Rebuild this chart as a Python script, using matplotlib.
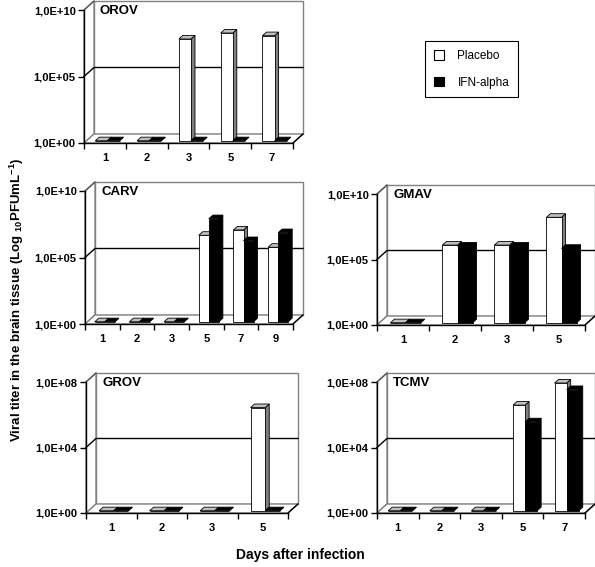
import numpy as np
import matplotlib
matplotlib.use("Agg")
import matplotlib.pyplot as plt
from matplotlib.patches import Polygon, Rectangle, Patch

plt.rcParams['font.family'] = ['Liberation Sans', 'DejaVu Sans']
plt.rcParams['mathtext.fontset'] = 'custom'
plt.rcParams['mathtext.rm'] = 'Liberation Sans:bold'
plt.rcParams['mathtext.bf'] = 'Liberation Sans:bold'

# log10 of the titres (1,0E+00 -> 0)
orov_days = ['1', '2', '3', '5', '7']
orov_placebo = [0, 0, 7.65, 8.1, 7.9]
orov_ifn = [0, 0, 0, 0, 0]

carv_days = ['1', '2', '3', '5', '7', '9']
carv_placebo = [0, 0, 0, 6.5, 6.9, 5.6]
carv_ifn = [0, 0, 0, 7.75, 6.1, 6.7]

gmav_days = ['1', '2', '3', '5']
gmav_placebo = [0, 5.93, 5.93, 8.05]
gmav_ifn = [0, 5.85, 5.85, 5.68]

grov_days = ['1', '2', '3', '5']
grov_placebo = [0, 0, 0, 6.3]
grov_ifn = [0, 0, 0, 0]

tcmv_days = ['1', '2', '3', '5', '7']
tcmv_placebo = [0, 0, 0, 6.45, 7.8]
tcmv_ifn = [0, 0, 0, 5.43, 7.4]

W, H = 595, 567
DX, DY = 10, 9          # depth of the 3d box in pixels
BAR_W = 0.29
FRONT = 0.25            # bar front face position (fraction of depth)
BDEPTH = 0.4            # bar depth (fraction of depth)

fig = plt.figure(figsize=(W / 100, H / 100), dpi=100)


def panel(name, days, placebo, ifn, top, box):
    x0, x1, yt, yb = box
    ax = fig.add_axes([x0 / W, (H - yb) / H, (x1 - x0) / W, (yb - yt) / H])
    ax.patch.set_visible(False)
    n = len(days)
    ax.set_xlim(0, n)
    ax.set_ylim(0, top)
    sx = n / (x1 - x0)
    sy = top / (yb - yt)
    ddx, ddy = DX * sx, DY * sy
    mid = top / 2

    # walls
    ax.add_patch(Rectangle((ddx, ddy), n, top, facecolor='white',
                           edgecolor='0.5', lw=1, clip_on=False, zorder=1))
    ax.add_patch(Polygon([(0, 0), (ddx, ddy), (ddx, top + ddy), (0, top)],
                         closed=True, facecolor='white', edgecolor='0.5',
                         lw=1, clip_on=False, zorder=1))
    ax.add_patch(Polygon([(0, 0), (n, 0), (n + ddx, ddy), (ddx, ddy)],
                         closed=True, facecolor='white', edgecolor='0.5',
                         lw=1, clip_on=False, zorder=1))
    ax.plot([0, ddx, n + ddx], [mid, mid + ddy, mid + ddy], color='black',
            lw=1, clip_on=False, zorder=2)
    ax.plot([n, n + ddx], [0, ddy], color='black', lw=1, clip_on=False, zorder=2)
    ax.plot([0, ddx], [top, top + ddy], color='0.35', lw=1, clip_on=False, zorder=2)

    # bars
    fx, fy = FRONT * ddx, FRONT * ddy
    bx, by = BDEPTH * ddx, BDEPTH * ddy
    for i in range(n):
        xc = i + 0.5 + fx
        for vals, left, face, side, cap in [
                (placebo, xc - BAR_W, 'white', '0.5', '0.75'),
                (ifn, xc, 'black', 'black', 'black')]:
            v = vals[i]
            xr = left + BAR_W
            ax.add_patch(Polygon([(xr, fy), (xr + bx, fy + by),
                                  (xr + bx, fy + v + by), (xr, fy + v)],
                                 closed=True, facecolor=side, edgecolor='black',
                                 lw=0.6, zorder=3, clip_on=False))
            ax.add_patch(Polygon([(left, fy + v), (xr, fy + v),
                                  (xr + bx, fy + v + by), (left + bx, fy + v + by)],
                                 closed=True, facecolor=cap, edgecolor='black',
                                 lw=0.6, zorder=3, clip_on=False))
            ax.bar(left, v, bottom=fy, width=BAR_W, align='edge', color=face,
                   edgecolor='black', linewidth=0.6, zorder=3, clip_on=False)

    # axes
    for s in ['top', 'right']:
        ax.spines[s].set_visible(False)
    for s in ['left', 'bottom']:
        ax.spines[s].set_color('black')
        ax.spines[s].set_linewidth(1)
        ax.spines[s].set_zorder(4)
    exp = int(top)
    ax.set_yticks([0, mid, top])
    ax.set_yticklabels(['1,0E+00', '1,0E+%02d' % (exp // 2), '1,0E+%02d' % exp],
                       fontsize=8, fontweight='bold')
    ax.set_xticks(np.arange(n + 1))
    ax.set_xticklabels([])
    ax.set_xticks(np.arange(n) + 0.5, minor=True)
    ax.set_xticklabels(days, minor=True, fontsize=8, fontweight='bold')
    ax.tick_params(axis='both', which='major', length=4, width=1, direction='out')
    ax.tick_params(axis='x', which='minor', length=0, pad=7)
    ax.tick_params(axis='y', pad=2)

    ax.text(ddx + 6 * sx, top + ddy - 4 * sy, name, fontsize=9.5,
            fontweight='bold', ha='left', va='top', zorder=5)
    return ax


panel('OROV', orov_days, orov_placebo, orov_ifn, 10, (84, 293, 10, 143))
panel('CARV', carv_days, carv_placebo, carv_ifn, 10, (85, 293, 191, 324))
panel('GMAV', gmav_days, gmav_placebo, gmav_ifn, 10, (377, 585, 194, 325))
panel('GROV', grov_days, grov_placebo, grov_ifn, 8, (86, 288, 382, 513))
panel('TCMV', tcmv_days, tcmv_placebo, tcmv_ifn, 8, (377, 585, 382, 513))

handles = [Patch(facecolor='white', edgecolor='black', lw=0.8),
           Patch(facecolor='black', edgecolor='black', lw=0.8)]
leg = fig.legend(handles, ['Placebo', 'IFN-alpha'], loc='upper left',
                 bbox_to_anchor=(425 / W, 1 - 41 / H), fontsize=8.5,
                 handlelength=0.9, handleheight=0.9, labelspacing=1.25,
                 borderpad=0.75, handletextpad=1.1, borderaxespad=0,
                 fancybox=False, framealpha=1, edgecolor='black')
leg.get_frame().set_linewidth(0.8)

fig.text(17 / W, 1 - 300 / H,
         'Viral titer in the brain tissue (Log $_{10}$PFUmL$^{-1}$)',
         rotation=90, ha='center', va='center', fontsize=9.5, fontweight='bold')
fig.text(300 / W, 1 - 555 / H, 'Days after infection', ha='center',
         va='center', fontsize=10, fontweight='bold')

fig.savefig('out.png', dpi=100)
